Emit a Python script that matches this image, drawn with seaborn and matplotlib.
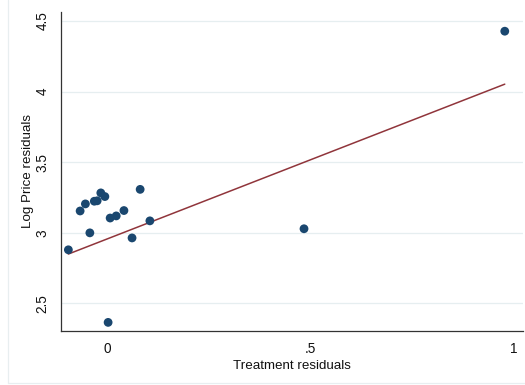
import numpy as np
import pandas as pd
import matplotlib
matplotlib.use("Agg")
import matplotlib.pyplot as plt
import seaborn as sns
from matplotlib.lines import Line2D

# Data
treatment_resid = [-0.097, -0.068, -0.055, -0.044, -0.033, -0.026, -0.017, -0.007,
                   0.001, 0.006, 0.021, 0.040, 0.060, 0.080, 0.104, 0.484, 0.979]
logprice_resid = [2.88, 3.155, 3.205, 3.00, 3.224, 3.227, 3.283, 3.257,
                  2.366, 3.105, 3.12, 3.158, 2.964, 3.308, 3.085, 3.029, 4.428]
# fitted line as drawn in the reference (endpoints)
fit_x = [-0.097, 0.979]
fit_y = [2.85, 4.053]
x_ticks = [0, 0.5, 1]
x_tick_labels = ["0", ".5", "1"]
y_ticks = [2.5, 3, 3.5, 4, 4.5]
y_tick_labels = ["2.5", "3", "3.5", "4", "4.5"]

df = pd.DataFrame({"x": treatment_resid, "y": logprice_resid})
fit_df = pd.DataFrame({"x": fit_x, "y": fit_y})

sns.set_theme(style="white")
plt.rcParams["font.family"] = ["Liberation Sans", "DejaVu Sans"]

W, H = 525, 385
fig = plt.figure(figsize=(W / 100, H / 100), dpi=100)
fig.patch.set_facecolor("white")
left, right, top, bottom = 60.7, 522.7, 12, 331
ax = fig.add_axes([left / W, 1 - bottom / H, (right - left) / W, (bottom - top) / H])

sns.scatterplot(data=df, x="x", y="y", ax=ax, s=40, color="#1a476f",
                edgecolor="none", zorder=3)
sns.lineplot(data=fit_df, x="x", y="y", ax=ax, color="#90353b", lw=1.1, zorder=2)

ax.set_xlim(-0.1159, 1.0232)
ax.set_ylim(2.305, 4.564)
ax.set_xticks(x_ticks)
ax.set_xticklabels(x_tick_labels)
ax.set_yticks(y_ticks)
ax.set_yticklabels(y_tick_labels, rotation=90, va="center")
ax.tick_params(axis="both", length=5, width=0.8, color="#333333", labelsize=9.8,
               labelcolor="#111111", direction="out", pad=3)
ax.tick_params(axis="y", pad=3)
ax.yaxis.grid(True, color="#e6eef0", lw=0.9)
ax.xaxis.grid(False)
ax.set_axisbelow(True)
for s in ["top", "right"]:
    ax.spines[s].set_visible(False)
for s in ["left", "bottom"]:
    ax.spines[s].set_color("#333333")
    ax.spines[s].set_linewidth(0.9)
ax.set_xlabel("Treatment residuals", fontsize=9.6, color="#111111", labelpad=3)
ax.set_ylabel("Log Price residuals", fontsize=9.6, color="#111111", labelpad=1)

# faint outer graph-region border
fig.add_artist(Line2D([8 / W, 8 / W], [1 - 383 / H, 1.0], transform=fig.transFigure,
                      color="#e8eef0", lw=0.9))
fig.add_artist(Line2D([8 / W, 1.0], [1 - 383 / H, 1 - 383 / H], transform=fig.transFigure,
                      color="#e8eef0", lw=0.9))

fig.savefig("out.png", dpi=100, facecolor="white")
